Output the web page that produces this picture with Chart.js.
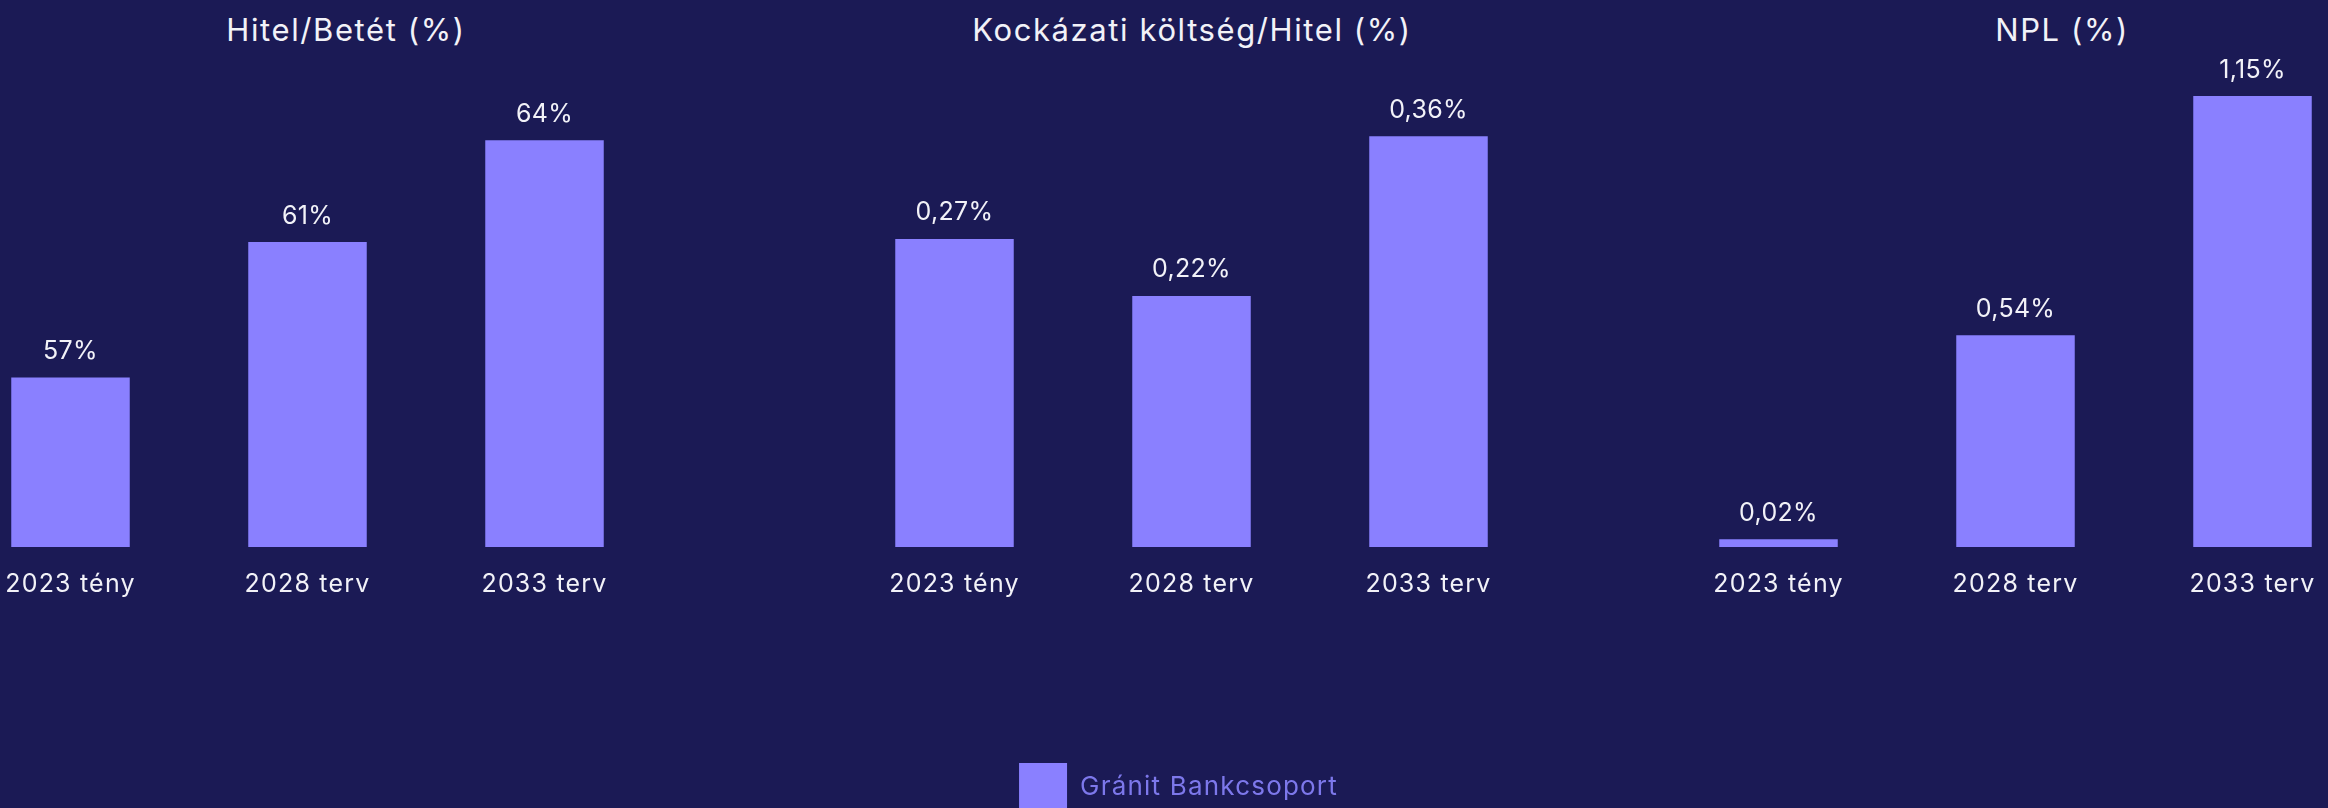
<!DOCTYPE html>
<html lang="hu">
<head>
<meta charset="utf-8">
<title>Gránit Bankcsoport</title>
<script src="https://cdn.jsdelivr.net/npm/chart.js@4.4.1/dist/chart.umd.min.js"></script>
<style>
  body {
    margin: 0;
    width: 2328px;
    height: 808px;
    overflow: hidden;
    position: relative;
    background: #1b1a55;
    font-family: Inter, "Noto Sans", sans-serif;
  }
  canvas { position: absolute; top: 0; }
  .title {
    position: absolute;
    top: 10px;
    width: 800px;
    margin-left: -400px;
    height: 40px;
    line-height: 40px;
    text-align: center;
    color: #f2f2f8;
    font-size: 31px;
    letter-spacing: 1.6px;
  }
</style>
</head>
<body>
<div class="title" id="title0" style="left:346px"></div>
<div class="title" id="title1" style="left:1192px"></div>
<div class="title" id="title2" style="left:2062px"></div>
<canvas id="chart0" width="711" height="627" style="left:-48px"></canvas>
<canvas id="chart1" width="737" height="821" style="left:810px"></canvas>
<canvas id="chart2" width="711" height="627" style="left:1660px"></canvas>
<script>
var categories = ["2023 tény", "2028 terv", "2033 terv"];
var hitelBetet = [57, 61, 64];
var kockazatiKoltseg = [0.27, 0.22, 0.36];
var npl = [0.02, 0.54, 1.15];
var titles = ["Hitel/Betét (%)", "Kockázati költség/Hitel (%)", "NPL (%)"];
var seriesName = "Gránit Bankcsoport";

var barColor = "#8a80ff";
var textColor = "#f2f2f8";

Chart.defaults.font.family = "Inter, 'Noto Sans', sans-serif";
Chart.defaults.color = textColor;

// magyar tizedesvessző
function formatValue(v, decimals) {
  return v.toFixed(decimals).replace(".", ",") + "%";
}

// kicsit szellősebb betűköz a tengely- és jelmagyarázat-feliratokhoz
// (mérésnél és rajzolásnál is)
var spacing = {
  id: "spacing",
  beforeUpdate: function(chart) {
    chart.ctx.letterSpacing = "1.2px";
  },
  beforeDraw: function(chart) {
    chart.ctx.letterSpacing = "1.2px";
  }
};

// érték felirat az oszlopok fölé
var valueLabels = {
  id: "valueLabels",
  afterDatasetsDraw: function(chart, args, opts) {
    var ctx = chart.ctx;
    var meta = chart.getDatasetMeta(0);
    var data = chart.data.datasets[0].data;
    ctx.save();
    ctx.letterSpacing = "0.3px";
    ctx.font = "25px Inter, 'Noto Sans', sans-serif";
    ctx.fillStyle = textColor;
    ctx.textAlign = "center";
    ctx.textBaseline = "middle";
    for (var i = 0; i < meta.data.length; i++) {
      var bar = meta.data[i];
      ctx.fillText(formatValue(data[i], opts.decimals), bar.x, bar.y - 26);
    }
    ctx.restore();
  }
};

// yWidth: üres bal oldali sáv, hogy a jelmagyarázat kicsit balra kerüljön
function makeChart(id, values, decimals, yMin, yMax, axisHeight, yWidth, showLegend)
{
  return new Chart(document.getElementById(id), {
    type: "bar",
    data: {
      labels: categories,
      datasets: [{
        label: seriesName,
        data: values,
        backgroundColor: barColor,
        borderWidth: 0,
        barPercentage: 0.5,
        categoryPercentage: 1
      }]
    },
    plugins: [spacing, valueLabels],
    options: {
      responsive: false,
      animation: false,
      devicePixelRatio: 1,
      events: [],
      layout: { padding: { top: 60, left: 0, right: 0, bottom: 0 } },
      scales: {
        x: {
          grid: { display: false, drawTicks: false },
          border: { display: false },
          ticks: { color: textColor, font: { size: 25 }, padding: 22 },
          afterFit: function(scale) { scale.height = axisHeight; }
        },
        y: {
          display: yWidth > 0,
          min: yMin,
          max: yMax,
          grid: { display: false, drawTicks: false },
          border: { display: false },
          ticks: { display: false },
          afterFit: function(scale) { scale.width = yWidth; }
        }
      },
      plugins: {
        valueLabels: { decimals: decimals },
        tooltip: { enabled: false },
        legend: {
          display: showLegend,
          position: "bottom",
          labels: {
            color: "#7d78eb",
            boxWidth: 48,
            boxHeight: 48,
            padding: 10,
            font: { size: 26 }
          }
        }
      }
    }
  });
}

for (var t = 0; t < titles.length; t++) {
  document.getElementById("title" + t).textContent = titles[t];
}

// a középső diagram viseli a közös jelmagyarázatot
makeChart("chart0", hitelBetet, 0, 52, 66.37, 80, 0, false);
makeChart("chart1", kockazatiKoltseg, 2, 0, 0.4268, 206, 26, true);
makeChart("chart2", npl, 2, 0, 1.242, 80, 0, false);
</script>
</body>
</html>
